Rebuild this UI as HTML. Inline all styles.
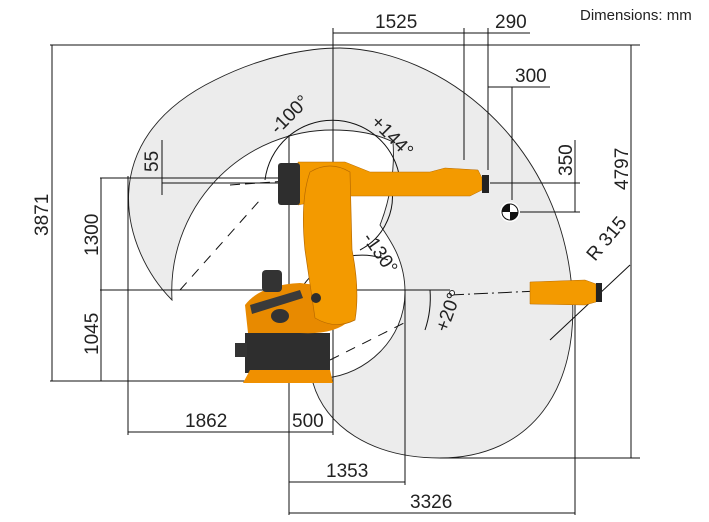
<!DOCTYPE html>
<html><head><meta charset="utf-8"><style>
html,body{margin:0;padding:0;background:#fff;}
svg{display:block;font-family:"Liberation Sans",sans-serif;}
.t{font-size:19px;fill:#222;}
</style></head><body>
<svg width="709" height="522" viewBox="0 0 709 522">
<path d="M172,300 C122,250 92,140 215,80 C265,55 310,48 340,48 C440,50 560,140 572,290 C580,390 530,458 440,458 C370,458 325,425 313,383 L325,378 C365,375 405,340 405,292 C405,260 390,240 380,225 C390,200 395,170 393,142 C375,133 355,130 333,130 A161,161 0 0 0 172,300 Z" fill="#ececec" stroke="#222" stroke-width="0.9"/>
<g stroke="#111" stroke-width="1" fill="none">
<line x1="50" y1="45" x2="640" y2="45"/>
<line x1="52" y1="45" x2="52" y2="381"/>
<line x1="50" y1="381" x2="330" y2="381"/>
<line x1="100" y1="178" x2="310" y2="178"/>
<line x1="101" y1="178" x2="101" y2="381"/>
<line x1="100" y1="290" x2="450" y2="290"/>
<line x1="128" y1="176" x2="128" y2="435"/>
<line x1="289" y1="135" x2="289" y2="515"/>
<line x1="333" y1="28" x2="333" y2="435"/>
<line x1="405" y1="290" x2="405" y2="485"/>
<line x1="575" y1="300" x2="575" y2="515"/>
<line x1="464" y1="28" x2="464" y2="160"/>
<line x1="488" y1="28" x2="488" y2="170"/>
<line x1="333" y1="33" x2="530" y2="33"/>
<line x1="488" y1="87" x2="550" y2="87"/>
<line x1="512" y1="87" x2="512" y2="200"/>
<line x1="490" y1="183" x2="580" y2="183"/>
<line x1="515" y1="212" x2="580" y2="212"/>
<line x1="575" y1="140" x2="575" y2="212"/>
<line x1="162" y1="140" x2="162" y2="195"/>
<line x1="162" y1="183" x2="300" y2="183"/>
<line x1="631" y1="45" x2="631" y2="458"/>
<line x1="440" y1="458" x2="640" y2="458"/>
<line x1="128" y1="432" x2="333" y2="432"/>
<line x1="289" y1="482" x2="405" y2="482"/>
<line x1="289" y1="513" x2="575" y2="513"/>
<line x1="550" y1="340" x2="630" y2="265"/>
<path d="M265,180 A68,68 0 0 1 400,180" />
<path d="M390,180 A60,60 0 0 1 360,250"/>
<path d="M290,330 A72,72 0 0 1 388,260"/>
<path d="M430,290 A100,100 0 0 1 425,330"/>
<path d="M450,295 L560,290" stroke-dasharray="14,4,2,4"/>
<path d="M230,185 L330,178" stroke-dasharray="10,5"/>
<path d="M180,290 L260,200" stroke-dasharray="10,8"/>
<path d="M330,360 L410,320" stroke-dasharray="10,8"/>
</g>
<circle cx="452" cy="293" r="2.5" fill="#fff" stroke="#222"/>
<circle cx="510" cy="212" r="10" fill="#fff"/>
<circle cx="510" cy="212" r="8" fill="#fff" stroke="#111"/>
<path d="M502,212 A8,8 0 0 1 510,204 L510,212Z M518,212 A8,8 0 0 1 510,220 L510,212Z" fill="#111"/>
<rect x="245" y="333" width="85" height="40" fill="#2e2e2e"/>
<rect x="235" y="343" width="12" height="14" fill="#333"/>
<path d="M243,383 L250,370 L330,370 L333,383Z" fill="#f09000"/>
<path d="M245,305 Q260,285 300,283 L355,290 L350,320 Q335,335 300,333 L248,333Z" fill="#e88a00"/>
<rect x="262" y="270" width="20" height="22" rx="4" fill="#333"/>
<path d="M250,305 L300,290 L303,298 L252,314Z" fill="#3a3a3a"/>
<ellipse cx="280" cy="316" rx="9" ry="7" fill="#333"/>
<path d="M298,162 L345,162 L370,172 L430,172 L445,168 L478,170 L482,178 L482,190 L470,196 L440,196 L370,196 L345,196 L298,205Z" fill="#f39a00" stroke="#b86a00" stroke-width="0.5"/>
<rect x="278" y="163" width="22" height="42" rx="3" fill="#2e2e2e"/>
<rect x="482" y="175" width="7" height="18" fill="#222"/>
<path d="M310,172 Q330,160 350,172 L352,250 Q360,290 355,320 Q335,330 315,318 L305,250 Q300,200 310,172Z" fill="#f39a00" stroke="#b86a00" stroke-width="0.7"/>
<circle cx="316" cy="298" r="5" fill="#2e2e2e"/>
<path d="M530,282 L585,280 L596,284 L596,302 L585,305 L530,304Z" fill="#f39a00" stroke="#b86a00" stroke-width="0.5"/>
<rect x="596" y="283" width="6" height="19" fill="#222"/>
<text x="580" y="20" font-size="15" fill="#222">Dimensions: mm</text>
<text class="t" x="375" y="28">1525</text>
<text class="t" x="495" y="28">290</text>
<text class="t" x="515" y="82">300</text>
<text class="t" x="185" y="427">1862</text>
<text class="t" x="292" y="427">500</text>
<text class="t" x="326" y="477">1353</text>
<text class="t" x="410" y="508">3326</text>
<text class="t" transform="translate(48,236) rotate(-90)">3871</text>
<text class="t" transform="translate(98,256) rotate(-90)">1300</text>
<text class="t" transform="translate(98,355) rotate(-90)">1045</text>
<text class="t" transform="translate(158,172) rotate(-90)">55</text>
<text class="t" transform="translate(572,176) rotate(-90)">350</text>
<text class="t" transform="translate(628,190) rotate(-90)">4797</text>
<text class="t" transform="translate(278,135) rotate(-45)">-100°</text>
<text class="t" transform="translate(370,123) rotate(45)">+144°</text>
<text class="t" transform="translate(362,238) rotate(55)">-130°</text>
<text class="t" transform="translate(447,333) rotate(-70)">+20°</text>
<text class="t" transform="translate(595,262) rotate(-50)">R 315</text>
</svg>
</body></html>
